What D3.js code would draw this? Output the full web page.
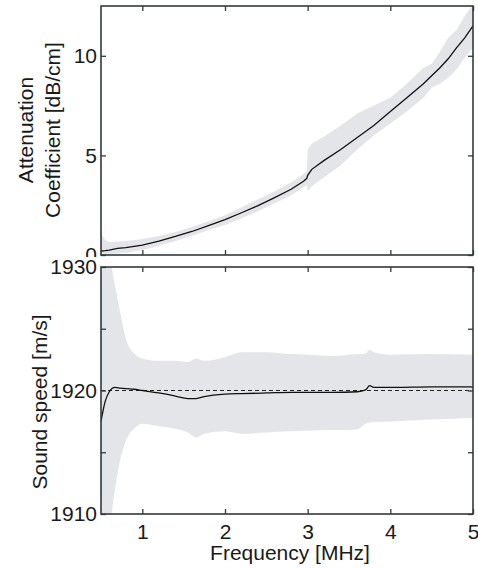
<!DOCTYPE html>
<html>
<head>
<meta charset="utf-8">
<script src="https://cdn.jsdelivr.net/npm/d3@7"></script>
<style>
  body { margin: 0; background: #fff; }
  text { font-family: "Liberation Sans", Arial, sans-serif; }
</style>
</head>
<body>
<div class="canvas"></div>
<script>
const dims = { width: 478, height: 568 }

// frequency grid of the attenuation curve [MHz]
const attFreq  = [0.5, 0.55, 0.6, 0.7, 0.8, 1.0, 1.2, 1.4, 1.6, 1.8, 2.0, 2.2, 2.4, 2.6, 2.8, 2.95, 2.99, 3.0, 3.05, 3.2, 3.4, 3.6, 3.8, 4.0, 4.2, 4.4, 4.5, 4.6, 4.7, 4.8, 4.9, 5.0]
const attMean  = [0.2, 0.22, 0.25, 0.33, 0.37, 0.5, 0.7, 0.93, 1.18, 1.47, 1.78, 2.12, 2.48, 2.88, 3.3, 3.7, 3.85, 4.0, 4.3, 4.75, 5.3, 5.9, 6.5, 7.2, 7.9, 8.6, 9.0, 9.4, 9.85, 10.4, 10.9, 11.5]
const attUpper = [1.1, 0.75, 0.65, 0.68, 0.7, 0.8, 0.95, 1.15, 1.4, 1.7, 2.0, 2.4, 2.8, 3.2, 3.65, 4.05, 4.2, 5.3, 5.6, 5.95, 6.5, 7.1, 7.5, 7.9, 8.6, 9.4, 9.6, 10.2, 10.9, 11.3, 12.0, 12.6]
const attLower = [0, 0, 0.05, 0.08, 0.1, 0.25, 0.45, 0.7, 0.95, 1.25, 1.5, 1.85, 2.2, 2.6, 3.0, 3.4, 3.5, 3.2, 3.45, 3.9, 4.5, 5.3, 6.0, 6.6, 7.2, 7.9, 8.4, 8.6, 8.9, 9.3, 9.9, 10.4]

// sound speed [m/s]
const spdFreq  = [0.5, 0.55, 0.6, 0.63, 0.67, 0.73, 0.8, 0.9, 1.0, 1.2, 1.4, 1.55, 1.65, 1.75, 2.0, 2.2, 2.5, 2.8, 3.0, 3.3, 3.6, 3.7, 3.75, 3.8, 4.0, 4.5, 5.0]
const spdMean  = [1917.5, 1919.1, 1919.9, 1920.15, 1920.25, 1920.2, 1920.15, 1920.1, 1920.0, 1919.8, 1919.55, 1919.35, 1919.35, 1919.5, 1919.7, 1919.75, 1919.8, 1919.85, 1919.85, 1919.85, 1919.9, 1920.05, 1920.4, 1920.25, 1920.25, 1920.3, 1920.3]
const spdUpper = [1940, 1936, 1932, 1930, 1928.5, 1926.4, 1924.2, 1923.0, 1922.6, 1922.4, 1922.4, 1922.3, 1922.6, 1922.4, 1922.7, 1923.1, 1923.1, 1922.95, 1922.9, 1922.8, 1922.95, 1923.0, 1923.3, 1923.1, 1922.9, 1922.95, 1922.9]
const spdLower = [1900, 1904, 1908, 1910, 1912, 1914.3, 1915.9, 1916.9, 1917.3, 1917.1, 1916.9, 1916.6, 1916.2, 1916.5, 1916.7, 1916.5, 1916.6, 1916.7, 1916.75, 1916.8, 1916.85, 1917.3, 1917.4, 1917.45, 1917.5, 1917.65, 1917.8]
const refSpeed = 1920

const attTicks = [0, 5, 10]
const spdTicks = [1910, 1920, 1930]
const spdMinor = [1915, 1925]
const freqTicks = [1, 2, 3, 4, 5]

const frame = '#333a3a'
const band = '#e4e5e8'

const svg = d3.select('.canvas')
              .append('svg')
              .attr('width', dims.width)
              .attr('height', dims.height)

const left = 101, right = 473
const top1 = { y0: 6, y1: 255 }
const bot1 = { y0: 267, y1: 514 }

const x = d3.scaleLinear().domain([0.5, 5]).range([left, right])
const yAtt = d3.scaleLinear().domain([0, 12.5]).range([top1.y1, top1.y0])
const ySpd = d3.scaleLinear().domain([1910, 1930]).range([bot1.y1, bot1.y0])

const clip = (id, p) => svg.append('clipPath').attr('id', id)
  .append('rect').attr('x', left).attr('y', p.y0).attr('width', right - left).attr('height', p.y1 - p.y0)
clip('c1', top1)
clip('c2', bot1)
// the top panel's lowest tick label is cut by the lower panel
svg.append('clipPath').attr('id', 'lab1')
   .append('rect').attr('x', 0).attr('y', 0).attr('width', dims.width).attr('height', 257)

//draw a panel: band
const drawPanel = (clipId, freq, upper, lower, y, curve) => {
  const g = svg.append('g').attr('clip-path', `url(#${clipId})`)
  const idx = d3.range(freq.length)
  g.append('path')
   .attr('fill', band)
   .attr('d', d3.area().x(i => x(freq[i])).y0(i => y(lower[i])).y1(i => y(upper[i])).curve(curve)(idx))
  return g
}

const g1 = drawPanel('c1', attFreq, attUpper, attLower, yAtt, d3.curveLinear)
g1.append('path')
  .attr('fill', 'none').attr('stroke', '#111').attr('stroke-width', 1.3)
  .attr('d', d3.line().x((d, i) => x(attFreq[i])).y(d => yAtt(d))(attMean))

const g2 = drawPanel('c2', spdFreq, spdUpper, spdLower, ySpd, d3.curveMonotoneX)
g2.append('line')
  .attr('x1', left).attr('x2', right)
  .attr('y1', ySpd(refSpeed)).attr('y2', ySpd(refSpeed))
  .attr('stroke', '#222').attr('stroke-width', 1.2).attr('stroke-dasharray', '4,3')
g2.append('path')
  .attr('fill', 'none').attr('stroke', '#111').attr('stroke-width', 1.3)
  .attr('d', d3.line().x((d, i) => x(spdFreq[i])).y(d => ySpd(d)).curve(d3.curveMonotoneX)(spdMean))

//axes, ticks inward
const styleAxis = (g) => {
  g.select('.domain').remove()
  g.selectAll('.tick line').attr('stroke', frame).attr('stroke-width', 1.3)
  g.selectAll('.tick text').attr('fill', '#1a1a1a').style('font-size', '21px').style('font-family', '"Liberation Sans", Arial, sans-serif')
}

const axesFor = (p, y, yTicks, showX, labClip) => {
  svg.append('g').attr('transform', `translate(0,${p.y1})`)
     .call(d3.axisBottom(x).tickValues(freqTicks).tickSizeInner(-5).tickSizeOuter(0).tickPadding(10).tickFormat(showX ? d3.format('d') : ''))
     .call(styleAxis)
  svg.append('g').attr('transform', `translate(0,${p.y0})`)
     .call(d3.axisTop(x).tickValues(freqTicks).tickSizeInner(-5).tickSizeOuter(0).tickFormat(''))
     .call(styleAxis)
  // wrapper so the clip rect is in page coordinates
  const wrap = svg.append('g')
  if (labClip) wrap.attr('clip-path', `url(#${labClip})`)
  wrap.append('g').attr('transform', `translate(${left},0)`)
     .call(d3.axisLeft(y).tickValues(yTicks).tickSizeInner(-5).tickSizeOuter(0).tickPadding(4).tickFormat(d3.format('d')))
     .call(styleAxis)
  svg.append('g').attr('transform', `translate(${right},0)`)
     .call(d3.axisRight(y).tickValues(yTicks).tickSizeInner(-5).tickSizeOuter(0).tickFormat(''))
     .call(styleAxis)
  svg.append('rect')
     .attr('x', left).attr('y', p.y0).attr('width', right - left).attr('height', p.y1 - p.y0)
     .attr('fill', 'none').attr('stroke', frame).attr('stroke-width', 1.6)
}

axesFor(top1, yAtt, attTicks, false, 'lab1')
axesFor(bot1, ySpd, spdTicks.concat(spdMinor), true, null)

// only major labels in bottom left axis
svg.selectAll('.tick text').filter(d => spdMinor.includes(d)).remove()

//labels
const label = (txt, tx, ty, rot) => svg.append('text')
  .attr('transform', `translate(${tx},${ty}) rotate(${rot})`)
  .attr('text-anchor', 'middle')
  .attr('fill', '#1a1a1a')
  .style('font-size', '21px')
  .text(txt)

label('Attenuation', 33, 130, -90)
label('Coefficient [dB/cm]', 60, 130, -90)
label('Sound speed [m/s]', 47, 402, -90)
label('Frequency [MHz]', 290, 560, 0)
</script>
</body>
</html>
